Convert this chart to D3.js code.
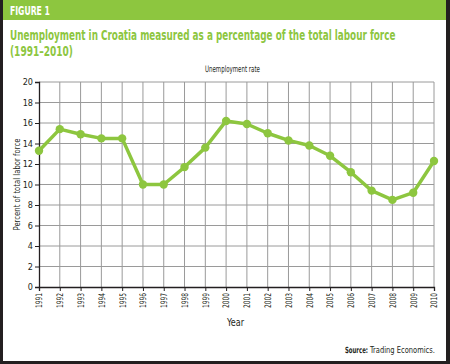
<!DOCTYPE html>
<html><head><meta charset="utf-8">
<script src="https://cdn.jsdelivr.net/npm/d3@7"></script>
<style>
body{margin:0;padding:0;background:#fff;}
svg{display:block;}
text{font-family:"DejaVu Sans Condensed","Liberation Sans Narrow","DejaVu Sans",sans-serif;font-stretch:condensed;}
</style></head>
<body>
<script>
const years = [1991,1992,1993,1994,1995,1996,1997,1998,1999,2000,2001,2002,2003,2004,2005,2006,2007,2008,2009,2010];
const rates = [13.3,15.4,14.9,14.5,14.5,10.0,10.0,11.7,13.6,16.2,15.9,15.0,14.3,13.8,12.8,11.2,9.4,8.5,9.2,12.3];
const yTicks = [0,2,4,6,8,10,12,14,16,18,20];

const W = 450, H = 364;
const svg = d3.select("body").append("svg").attr("width", W).attr("height", H);

// place a text at (px,py) (start anchored), horizontally scaled to width len, optional rotation
function fitText(parent, px, py, len, str, size, weight, fill, rot){
  const t = parent.append("text").attr("font-size",size).attr("fill",fill).text(str);
  if (weight) t.attr("font-weight",weight);
  const nat = t.node().getComputedTextLength();
  const s = len / nat;
  t.attr("transform", `translate(${px},${py})` + (rot ? ` rotate(${rot})` : "") + ` scale(${s},1)`);
  return t;
}

// frame
svg.append("rect").attr("x",0).attr("y",0).attr("width",W).attr("height",H).attr("fill","#231f20");
svg.append("rect").attr("x",3).attr("y",0).attr("width",443).attr("height",361).attr("fill","#ffffff");
svg.append("rect").attr("x",3).attr("y",0).attr("width",443).attr("height",20).attr("fill","#8dc63f");

fitText(svg,10,15,40,"FIGURE 1",12,"bold","#fff");
fitText(svg,10,40,386,"Unemployment in Croatia measured as a percentage of the total labour force",14,"bold","#8dc63f");
fitText(svg,10,56,63,"(1991\u20132010)",14,"bold","#8dc63f");
fitText(svg,205,72,55,"Unemployment rate",9,null,"#231f20");

const x = d3.scalePoint().domain(years).range([39,434]);
const y = d3.scaleLinear().domain([0,20]).range([287,82]);

const g = svg.append("g");
// grid
g.selectAll(".vg").data(years.slice(1)).join("line")
  .attr("x1",d=>x(d)).attr("x2",d=>x(d)).attr("y1",y(20)).attr("y2",y(0))
  .attr("stroke","#9a9a9a").attr("stroke-width",1);
g.selectAll(".hg").data(yTicks.slice(1)).join("line")
  .attr("x1",x(1991)).attr("x2",x(2010)).attr("y1",d=>y(d)).attr("y2",d=>y(d))
  .attr("stroke","#9a9a9a").attr("stroke-width",1);

// axes
const yAxis = d3.axisLeft(y).tickValues(yTicks).tickSize(4).tickPadding(2);
const ya = svg.append("g").attr("transform",`translate(${x(1991)},0)`).call(yAxis);
ya.select(".domain").attr("stroke","#231f20").attr("stroke-width",1.3);
ya.selectAll(".tick line").attr("stroke","#231f20");
ya.selectAll("text").attr("font-size",9).attr("fill","#231f20").attr("font-family",null);

const xAxis = d3.axisBottom(x).tickSize(4).tickPadding(2);
const xa = svg.append("g").attr("transform",`translate(0,${y(0)})`).call(xAxis);
xa.select(".domain").attr("stroke","#231f20").attr("stroke-width",1.3);
xa.selectAll(".tick line").attr("stroke","#231f20");
xa.selectAll("text").attr("font-size",9).attr("fill","#231f20").attr("font-family",null)
  .attr("text-anchor","end").attr("x",null).attr("y",null).attr("dy","0.32em")
  .each(function(){
    const nat = this.getComputedTextLength();
    d3.select(this).attr("transform",`translate(0,6) rotate(-90) scale(${15/nat},1)`);
  });

fitText(svg,227,326,17,"Year",10.5,null,"#231f20");
fitText(svg,20,(y(0)+y(20))/2+46,92,"Percent of total labor force",9.5,null,"#231f20",-90);

// line
const line = d3.line().x((d,i)=>x(years[i])).y(d=>y(d));
svg.append("path").datum(rates).attr("d",line).attr("fill","none")
  .attr("stroke","#8dc63f").attr("stroke-width",3.5).attr("stroke-linejoin","round");
svg.selectAll(".dot").data(rates).join("circle")
  .attr("cx",(d,i)=>x(years[i])).attr("cy",d=>y(d)).attr("r",4.2).attr("fill","#8dc63f");

fitText(svg,345,353,23,"Source:",8.5,"bold","#231f20");
fitText(svg,370,353,65,"Trading Economics.",8.5,null,"#231f20");
</script>
</body></html>
